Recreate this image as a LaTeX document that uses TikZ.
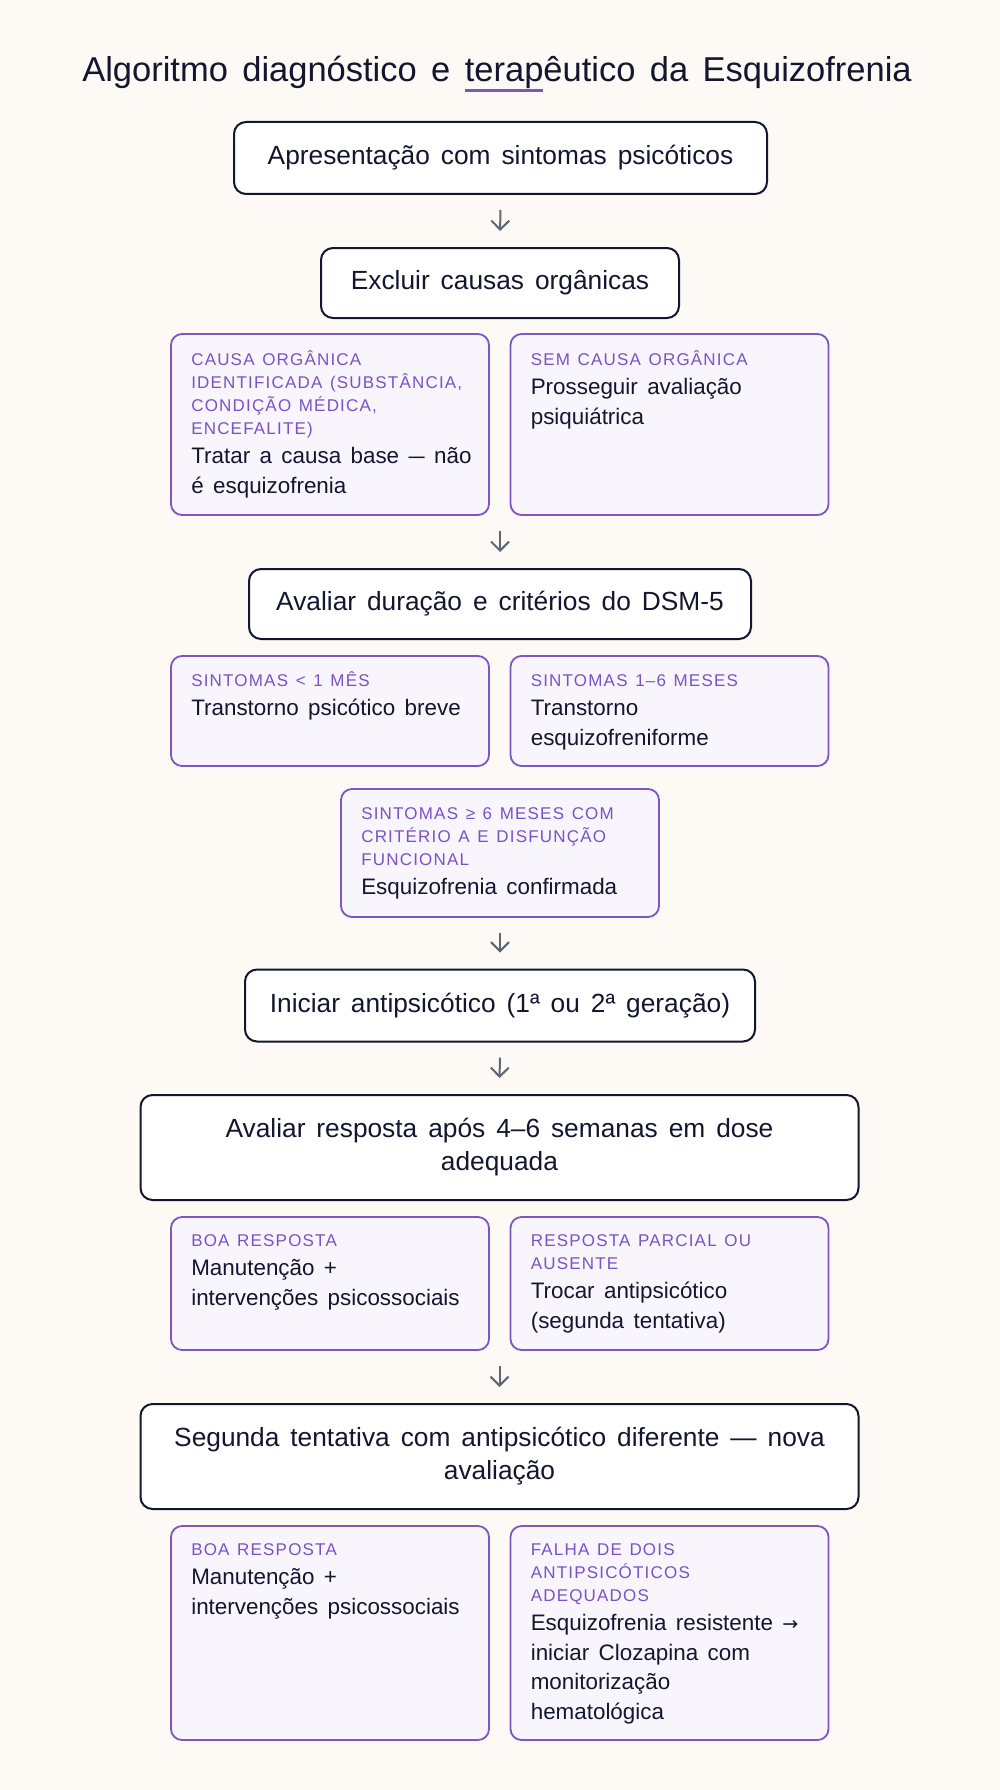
\documentclass[tikz,border=0pt]{standalone}
\usepackage{fontspec}
\usepackage{graphicx}
\setmainfont{Liberation Sans}[WordSpace=1.5]
\newfontfamily\hdrfont{Liberation Sans}[LetterSpace=7,WordSpace=1.3]
\newfontfamily\symfont{DejaVu Sans}
\usetikzlibrary{arrows.meta}
\definecolor{bgc}{HTML}{FDFAF6}
\definecolor{ink}{HTML}{12162E}
\definecolor{purp}{HTML}{7E55C4}
\definecolor{ptxt}{HTML}{7B52C4}
\definecolor{pfill}{HTML}{F8F5FD}
\definecolor{arrc}{HTML}{5F6676}
\newlength\tw
\setlength\parindent{0pt}
\newcommand\hdr{\hdrfont\fontsize{17}{23}\selectfont\spaceskip=0.45em\relax\color{ptxt}}
\newcommand\bdy{\normalfont\fontsize{22.4}{29.5}\selectfont\spaceskip=0.42em\relax\color{ink}}
\newcommand\ndash{\scalebox{0.72}[1]{—}}
\tikzset{
  mainbox/.style={draw=ink, line width=2pt, rounded corners=12pt, fill=white, text=ink,
    align=center, font=\fontsize{26.3}{33}\selectfont, inner sep=0pt},
  pbox/.style={draw=purp, line width=1.8pt, rounded corners=11pt, fill=pfill, minimum width=318pt, inner sep=0pt},
  ptext/.style={anchor=base west, text width=300pt, inner sep=0pt},
  arr/.style={draw=arrc, line width=2pt, -{Straight Barb[length=9pt,width=18pt,line width=2pt]},
    shorten <=15pt, shorten >=16pt}
}
\begin{document}
\begin{tikzpicture}[x=1pt,y=-1pt]
\fill[bgc] (0,0) rectangle (1000,1790);
\useasboundingbox (0,0) rectangle (1000,1790);

% title
\node[anchor=base, inner sep=0pt, text=ink, font=\fontsize{34.5}{40}\selectfont] (title) at (497,82)
  {Algoritmo diagnóstico e \settowidth{\tw}{terap}\rlap{\textcolor{purp}{\rule[-10pt]{\tw}{3pt}}}terapêutico da Esquizofrenia};

% main boxes
\node[mainbox, minimum width=533pt, minimum height=72pt] (b1) at (500.5,158) {Apresentação com sintomas psicóticos};
\node[mainbox, minimum width=358pt, minimum height=70pt] (b2) at (500,283) {Excluir causas orgânicas};
\node[mainbox, minimum width=502pt, minimum height=70pt] (b3) at (500,604) {Avaliar duração e critérios do DSM-5};
\node[mainbox, minimum width=510pt, minimum height=72pt] (b4) at (500,1005.5) {Iniciar antipsicótico (1ª ou 2ª geração)};
\node[mainbox, minimum width=718pt, minimum height=105pt] (b5) at (499.5,1147.5) {Avaliar resposta após 4–6 semanas em dose\\adequada};
\node[mainbox, minimum width=718pt, minimum height=105pt] (b6) at (499.5,1456.5) {Segunda tentativa com antipsicótico diferente — nova\\avaliação};

% row 1
\node[pbox, minimum height=181pt] (p1l) at (330,424.5) {};
\node[pbox, minimum height=181pt] (p1r) at (669.5,424.5) {};
\node[ptext] (t1l) at ([xshift=21pt,yshift=-32pt]p1l.north west)
  {\hdr CAUSA ORGÂNICA\\IDENTIFICADA (SUBSTÂNCIA,\\CONDIÇÃO MÉDICA,\\ENCEFALITE)\par
   \bdy Tratar a causa base \ndash{} não\\é esquizofrenia\par};
\node[ptext] (t1r) at ([xshift=21pt,yshift=-32pt]p1r.north west)
  {\hdr SEM CAUSA ORGÂNICA\par
   \bdy Prosseguir avaliação\\psiquiátrica\par};

% row 2
\node[pbox, minimum height=110pt] (p2l) at (330,711) {};
\node[pbox, minimum height=110pt] (p2r) at (669.5,711) {};
\node[ptext] (t2l) at ([xshift=21pt,yshift=-31pt]p2l.north west)
  {\hdr SINTOMAS < 1 MÊS\par
   \bdy Transtorno psicótico breve\par};
\node[ptext] (t2r) at ([xshift=21pt,yshift=-31pt]p2r.north west)
  {\hdr SINTOMAS 1–6 MESES\par
   \bdy Transtorno\\esquizofreniforme\par};
\node[pbox, minimum height=128pt] (pc) at (500,853) {};
\node[ptext] (tc) at ([xshift=21pt,yshift=-31pt]pc.north west)
  {\hdr SINTOMAS ≥ 6 MESES COM\\CRITÉRIO A E DISFUNÇÃO\\FUNCIONAL\par
   \bdy Esquizofrenia confirmada\par};

% row 3
\node[pbox, minimum height=133pt] (p3l) at (330,1283.5) {};
\node[pbox, minimum height=133pt] (p3r) at (669.5,1283.5) {};
\node[ptext] (t3l) at ([xshift=21pt,yshift=-30pt]p3l.north west)
  {\hdr BOA RESPOSTA\par
   \bdy Manutenção +\\intervenções psicossociais\par};
\node[ptext] (t3r) at ([xshift=21pt,yshift=-30pt]p3r.north west)
  {\hdr RESPOSTA PARCIAL OU\\AUSENTE\par
   \bdy Trocar antipsicótico\\(segunda tentativa)\par};

% row 4
\node[pbox, minimum height=214pt] (p4l) at (330,1633) {};
\node[pbox, minimum height=214pt] (p4r) at (669.5,1633) {};
\node[ptext] (t4l) at ([xshift=21pt,yshift=-30pt]p4l.north west)
  {\hdr BOA RESPOSTA\par
   \bdy Manutenção +\\intervenções psicossociais\par};
\node[ptext] (t4r) at ([xshift=21pt,yshift=-30pt]p4r.north west)
  {\hdr FALHA DE DOIS\\ANTIPSICÓTICOS\\ADEQUADOS\par
   \bdy Esquizofrenia resistente {\symfont\fontsize{19}{29.5}\selectfont →}\\iniciar Clozapina com\\monitorização\\hematológica\par};

% arrows
\draw[arr] (b1.south) -- (b2.north);
\draw[arr] (b3.north |- p1l.south) -- (b3.north);
\draw[arr] (pc.south) -- (b4.north);
\draw[arr] (b4.south) -- (b5.north);
\draw[arr] (b6.north |- p3l.south) -- (b6.north);
\end{tikzpicture}
\end{document}
